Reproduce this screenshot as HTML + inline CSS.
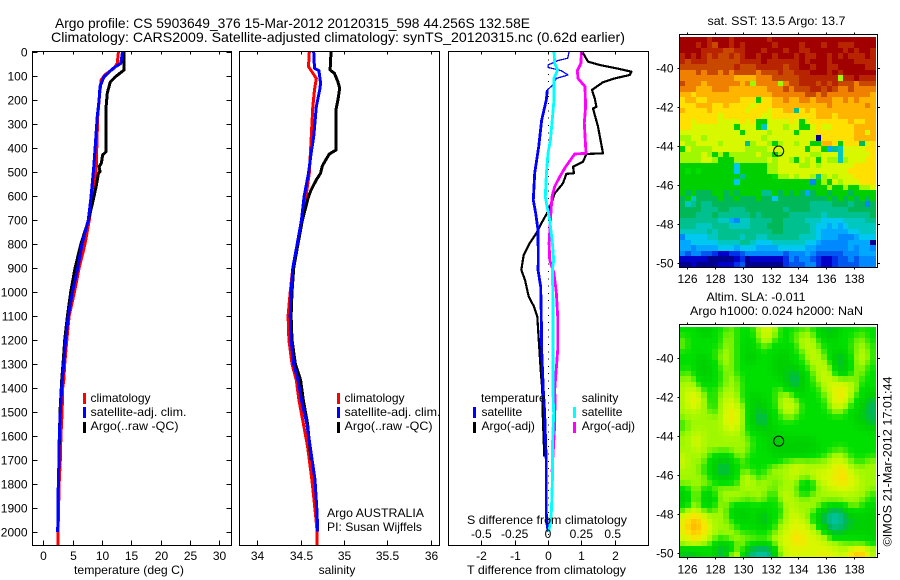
<!DOCTYPE html>
<html lang="en">
<head>
<meta charset="utf-8">
<title>Argo profile</title>
<style>
html,body{margin:0;padding:0;background:#fff;}
svg{display:block;font-family:"Liberation Sans",Arial,sans-serif;font-size:12px;fill:#000;}
text{fill:#000;}
.t14{font-size:14px;}
</style>
</head>
<body>
<svg id="chart" xmlns="http://www.w3.org/2000/svg" width="900" height="580" viewBox="0 0 900 580">
<rect x="0" y="0" width="900" height="580" fill="#fff"/>
<text class="t14" x="55" y="28" textLength="475" lengthAdjust="spacingAndGlyphs">Argo profile: CS 5903649_376 15-Mar-2012 20120315_598 44.256S 132.58E</text>
<text class="t14" x="51" y="42" textLength="574" lengthAdjust="spacingAndGlyphs">Climatology: CARS2009. Satellite-adjusted climatology: synTS_20120315.nc (0.62d earlier)</text>

<g id="maps"></g>
<g id="lines"></g>
<g id="axes"></g>

<g>
<rect x="83" y="393" width="3" height="11" fill="#f00"/>
<rect x="83" y="407" width="3" height="11" fill="#00f"/>
<rect x="83" y="422" width="3" height="11" fill="#000"/>
<text x="90.5" y="402">climatology</text>
<text x="90.5" y="416" textLength="96" lengthAdjust="spacingAndGlyphs">satellite-adj. clim.</text>
<text x="90.5" y="430" textLength="88" lengthAdjust="spacingAndGlyphs">Argo(..raw -QC)</text>
</g>
<g>
<rect x="337" y="393" width="3" height="11" fill="#f00"/>
<rect x="337" y="407" width="3" height="11" fill="#00f"/>
<rect x="337" y="422" width="3" height="11" fill="#000"/>
<text x="344.5" y="402">climatology</text>
<text x="344.5" y="416" textLength="96" lengthAdjust="spacingAndGlyphs">satellite-adj. clim.</text>
<text x="344.5" y="430" textLength="88" lengthAdjust="spacingAndGlyphs">Argo(..raw -QC)</text>
<text x="327" y="517" textLength="97" lengthAdjust="spacingAndGlyphs">Argo AUSTRALIA</text>
<text x="327" y="531" textLength="95" lengthAdjust="spacingAndGlyphs">PI: Susan Wijffels</text>
</g>
<g>
<text x="481" y="402">temperature</text>
<text x="581.7" y="402">salinity</text>
<rect x="473" y="407" width="3" height="11" fill="#00f"/>
<rect x="473" y="422" width="3" height="11" fill="#000"/>
<rect x="573" y="407" width="3" height="11" fill="#0ff"/>
<rect x="573" y="422" width="3" height="11" fill="#f0f"/>
<text x="481.5" y="416">satellite</text>
<text x="481.5" y="430">Argo(-adj)</text>
<text x="581.7" y="416">satellite</text>
<text x="581.7" y="430">Argo(-adj)</text>
</g>

<text x="74" y="574" textLength="110" lengthAdjust="spacingAndGlyphs">temperature (deg C)</text>
<text x="337" y="574" text-anchor="middle">salinity</text>
<text x="467" y="574" textLength="159" lengthAdjust="spacingAndGlyphs">T difference from climatology</text>
<text x="467" y="524" textLength="160" lengthAdjust="spacingAndGlyphs">S difference from climatology</text>

<text x="707.5" y="25" textLength="138" lengthAdjust="spacingAndGlyphs">sat. SST: 13.5 Argo: 13.7</text>
<text x="706.5" y="301" textLength="99" lengthAdjust="spacingAndGlyphs">Altim. SLA: -0.011</text>
<text x="690" y="315" textLength="173" lengthAdjust="spacingAndGlyphs">Argo h1000: 0.024 h2000: NaN</text>
<text transform="translate(891.5,546.5) rotate(-90)" textLength="170" lengthAdjust="spacingAndGlyphs">©IMOS 21-Mar-2012 17:01:44</text>
</svg>

<script>
// ---- Chart data ----
const depthTicks = [0,100,200,300,400,500,600,700,800,900,1000,1100,1200,1300,1400,1500,1600,1700,1800,1900,2000];
const tempTicks = [0,5,10,15,20,25,30];
const salTicks = [34,34.5,35,35.5,36];
const salTickLabels = ['34','34.5','35','35.5','36'];
const tDiffTicks = [-2,-1,0,1,2];
const sDiffTicks = [-0.5,-0.25,0,0.25,0.5];
const sDiffTickLabels = ['-0.5','-0.25','0','0.25','0.5'];
const lonTicks = [126,128,130,132,134,136,138];
const latTicks = [-40,-42,-44,-46,-48,-50];
const argoLon = 132.58;
const argoLat = -44.256;

// temperature profiles
const tempClimDepth = [0,47,68,95,117,186,270,408,505,547,617,700,800,901,1001,1101,1201,1301,1367,1400,1500,1600,1700,1800,1900,2000,2054];
const tempClimValue = [12.8,12.6,12.05,10.5,9.85,9.55,9.26,9.1,9.0,8.7,8.3,7.84,7.1,6.1,5.3,4.4,4.0,3.65,3.5,3.3,3.2,3.0,2.9,2.7,2.6,2.5,2.5];
const tempArgoDepth = [0,75,105,126,171,228,415,429,463,478,498,505,561,617,700,800,901,1001,1101,1201,1301,1367,1500,1700];
const tempArgoValue = [13.75,13.75,12.2,11.4,10.9,10.7,10.7,10.1,9.9,9.5,9.66,9.4,9.0,8.5,7.7,6.4,5.4,4.66,4.1,3.65,3.36,3.13,2.85,2.65];
const tempSatDepth = [0,47,68,105,144,200,267,339,408,478,547,617,700,800,901,1001,1101,1201,1301,1367,1400,1500,1600,1700,1800,1900,2000];
const tempSatValue = [13.5,13.2,11.9,10.3,9.66,9.5,9.2,9.0,8.8,8.6,8.35,8.07,7.67,6.6,5.86,4.95,4.26,3.8,3.47,3.24,3.13,2.9,2.73,2.67,2.55,2.5,2.45];

// salinity profiles
const salClimDepth = [0,61,82,110,158,228,367,505,603,700,800,900,1000,1100,1200,1300,1367,1450,1547,1644,1783,1922,1998,2054];
const salClimValue = [34.6,34.59,34.63,34.68,34.66,34.64,34.62,34.6,34.56,34.51,34.46,34.41,34.38,34.355,34.365,34.4,34.45,34.48,34.53,34.58,34.63,34.67,34.69,34.69];
const salArgoDepth = [0,75,89,124,151,200,235,408,425,443,475,505,533,575,603,700,800,900,1000,1100,1200,1300,1367,1450,1550,1700];
const salArgoValue = [34.85,34.84,34.89,34.93,34.95,34.93,34.91,34.91,34.83,34.8,34.75,34.73,34.68,34.62,34.59,34.52,34.47,34.42,34.4,34.39,34.4,34.44,34.5,34.53,34.58,34.62];
const salSatDepth = [0,68,78,130,158,228,353,422,505,603,700,800,900,1000,1100,1200,1300,1367,1450,1547,1644,1783,1922,1998];
const salSatValue = [34.65,34.66,34.71,34.73,34.72,34.68,34.65,34.62,34.59,34.54,34.51,34.46,34.41,34.39,34.38,34.39,34.42,34.47,34.51,34.57,34.61,34.665,34.69,34.695];

// difference profiles
const dTSatDepth = [0,26,36,54,64,78,96,110,137,158,200,283,394,505,617,672,742,867,908,978,1103,1242,1408,1506,1713,1922,1978,2000];
const dTSatValue = [0.63,0.59,0.3,0,0,0.4,0.6,0.25,0.15,-0.02,-0.05,-0.19,-0.28,-0.4,-0.44,-0.37,-0.3,-0.29,-0.3,-0.22,-0.2,-0.19,-0.14,-0.1,-0.05,-0.05,-0.02,0.01];
const dTArgoDepth = [0,40,54,68,82,96,110,126,158,193,228,235,311,422,425,457,478,505,508,547,589,631,672,714,755,797,846,908,950,1019,1061,1103,1214,1325,1408,1506,1617,1686];
const dTArgoValue = [1.03,1.2,1.55,2.05,2.5,2.45,2.0,1.65,1.32,1.4,1.45,1.35,1.5,1.65,1.15,1.05,0.75,0.78,0.55,0.45,0.2,0.1,-0.03,-0.2,-0.35,-0.55,-0.73,-0.8,-0.69,-0.58,-0.42,-0.32,-0.27,-0.22,-0.17,-0.16,-0.13,-0.11];
const dSSatDepth = [0,47,68,78,110,200,367,422,505,603,644,700,797,867,908,1033,1242,1408,1506,1644,1783,1922,1978,2000];
const dSSatValue = [0.045,0.05,0.067,0.07,0.045,0.045,0.018,0,-0.012,-0.02,-0.007,0.013,0.033,0.043,0.033,0.037,0.037,0.037,0.043,0.033,0.033,0.025,0.013,0.005];
const dSArgoDepth = [0,47,78,110,144,228,297,422,425,478,520,561,603,700,797,867,922,1006,1103,1242,1408,1450,1575,1658,1750];
const dSArgoValue = [0.25,0.247,0.22,0.225,0.277,0.282,0.272,0.285,0.2,0.133,0.088,0.05,0.03,0.018,0.008,0.013,0.045,0.063,0.073,0.073,0.05,0.053,0.048,0.04,0.03];

// SST map, colour-level per cell (north to south)
const sstRows = [
[20,20,20,20,20,19,20,20,20,19,20,20,20,20,20,20,19,20,20,20,20,20,20,20,20,20,20,20,20,20,20,20,20,20,20,20],
[20,20,20,19,20,19,18,20,20,19,20,19,20,20,20,20,20,19,20,20,20,20,19,20,20,20,19,20,20,19,19,19,20,20,20,20],
[20,20,20,20,19,19,19,19,18,18,19,19,20,20,20,19,20,20,20,19,20,20,19,19,20,20,20,20,20,20,19,20,19,20,20,19],
[19,20,19,20,19,18,19,18,18,19,18,19,20,20,19,20,20,19,20,20,20,19,20,19,19,20,20,19,20,19,20,19,19,19,20,19],
[19,18,19,19,19,18,18,18,18,18,18,19,19,19,19,20,19,19,19,19,19,19,20,19,20,20,20,19,20,20,20,20,19,19,19,19],
[18,18,18,18,18,18,18,18,18,18,19,18,18,18,19,19,19,19,19,18,19,19,20,20,19,20,20,19,19,20,20,20,20,20,19,19],
[17,17,17,18,17,18,18,17,18,17,18,18,18,18,17,18,18,18,19,18,18,19,19,19,20,20,20,19,20,19,20,20,20,20,20,20],
[17,17,17,17,17,17,17,17,17,17,16,16,16,16,17,17,17,18,18,18,18,18,19,19,19,19,19,19,19,13,19,19,20,19,19,19],
[18,17,17,17,16,17,17,17,17,17,17,16,17,13,17,17,17,17,13,17,18,18,19,19,19,18,19,18,19,18,18,18,17,18,18,18],
[17,17,17,16,16,16,17,17,17,16,16,16,16,16,16,16,17,17,17,18,17,18,18,18,19,19,18,19,18,17,17,18,17,17,17,17],
[16,16,15,16,16,16,16,16,16,16,16,16,16,16,16,16,16,17,17,17,17,17,17,18,18,17,18,17,17,17,17,17,17,17,17,16],
[15,16,16,15,15,16,16,16,16,16,16,15,15,15,11,15,15,16,16,17,16,16,17,17,16,17,17,17,16,16,17,16,17,16,16,16],
[15,15,15,16,16,16,15,15,16,15,15,15,15,14,15,15,15,16,16,16,16,16,16,16,16,16,16,17,16,16,16,16,16,16,17,16],
[16,15,15,15,15,16,15,15,15,15,15,15,14,15,15,15,14,15,15,16,16,9,15,16,15,16,16,16,16,16,16,16,16,16,16,16],
[15,15,15,15,15,15,15,14,15,15,15,15,15,15,15,14,14,15,15,15,15,15,15,15,15,16,16,16,15,16,16,16,16,16,16,16],
[15,15,14,15,15,15,15,14,14,14,14,15,14,15,11,11,14,14,14,14,15,14,11,14,15,15,15,15,15,15,15,16,15,15,16,16],
[15,15,14,14,14,14,14,14,14,14,11,14,14,14,11,8,14,14,14,13,14,14,11,11,14,15,14,14,15,15,15,15,16,16,16,16],
[14,14,14,14,14,14,14,14,14,14,14,11,14,14,14,14,13,14,14,14,14,11,14,14,14,15,15,15,15,15,15,15,16,16,14,16],
[13,13,14,14,13,14,14,14,14,14,14,14,14,14,14,13,14,14,14,14,14,14,14,14,14,1,15,15,15,15,15,15,16,16,16,16],
[14,13,13,14,14,14,14,13,14,14,14,14,9,13,14,14,13,11,13,14,14,13,14,14,11,11,16,16,15,11,15,15,15,10,14,15],
[11,14,13,13,13,13,14,14,14,14,14,14,13,13,13,13,14,14,14,14,14,14,14,11,14,14,11,6,9,8,14,14,14,14,15,15],
[13,13,13,13,14,13,11,13,11,13,13,13,13,13,14,13,13,11,13,14,14,14,14,14,13,13,14,14,14,8,14,14,14,14,14,15],
[13,13,13,13,14,14,13,11,11,11,13,13,13,13,13,13,14,13,14,14,13,11,14,13,14,11,14,13,13,8,13,14,14,14,15,15],
[11,11,11,11,11,11,11,11,11,11,7,11,11,11,11,11,13,13,14,14,14,14,13,13,14,13,14,14,14,14,14,14,15,15,15,15],
[11,12,11,12,11,11,11,11,11,11,7,11,11,11,11,11,13,13,14,14,14,14,14,14,14,14,14,14,14,14,14,15,15,15,15,15],
[11,11,11,11,11,11,11,11,11,11,11,9,11,11,11,11,11,12,13,13,14,13,14,14,13,9,13,14,13,14,14,14,15,15,15,15],
[11,11,11,11,11,11,11,11,11,11,7,11,11,11,11,11,11,11,11,11,11,11,11,11,5,11,13,11,14,13,14,14,14,15,15,15],
[11,11,11,11,11,11,11,11,11,11,11,11,11,11,11,11,11,11,11,11,11,11,11,11,11,11,11,13,11,11,13,11,11,13,13,14],
[11,10,11,10,10,10,11,11,10,11,10,11,11,11,11,9,9,11,10,11,10,11,10,6,10,11,11,10,11,11,11,10,11,11,11,11],
[10,11,8,10,10,10,10,11,10,10,11,10,10,10,11,10,10,7,10,10,10,10,10,10,10,10,10,11,10,11,10,11,10,11,10,11],
[10,8,9,10,9,9,10,10,10,10,10,10,10,10,10,10,10,10,10,10,10,10,10,10,9,9,9,9,10,10,10,9,10,10,5,10],
[10,10,10,10,9,9,9,10,10,9,9,9,10,10,10,10,10,10,10,9,10,10,10,10,9,9,9,9,9,9,9,10,10,10,10,10],
[10,10,10,9,9,9,10,9,9,9,9,9,9,10,9,10,10,10,10,10,9,9,9,9,9,9,8,9,9,9,9,9,9,9,9,10],
[9,9,9,9,9,9,9,8,8,6,5,8,8,9,9,9,9,10,10,9,9,9,9,8,8,8,7,7,7,7,8,8,8,8,9,9],
[9,9,9,8,8,8,9,9,9,8,8,8,8,9,9,9,10,10,10,9,9,9,9,9,8,7,7,6,7,6,7,8,8,8,8,8],
[8,8,8,8,8,9,8,9,9,9,9,9,9,9,9,9,9,10,10,9,9,9,9,9,8,7,6,6,6,6,6,7,7,8,8,8],
[5,7,7,7,7,8,8,9,9,9,9,8,9,9,8,8,9,9,9,9,9,9,8,8,8,7,6,6,6,5,5,5,6,7,7,7],
[6,6,7,7,7,7,7,8,8,8,8,9,9,8,7,7,7,8,8,8,8,8,8,7,7,6,5,5,5,5,5,6,6,6,6,1],
[6,6,5,6,6,6,6,7,7,7,6,7,7,7,6,6,6,6,7,7,7,7,7,6,6,5,5,5,5,5,5,6,5,6,6,5],
[5,4,5,5,4,4,3,2,2,3,3,4,5,5,5,5,5,5,5,4,5,5,5,6,5,4,4,4,4,4,5,5,5,6,6,6],
[2,2,2,2,2,1,1,1,1,1,2,3,1,2,2,2,2,2,2,3,5,4,5,5,4,3,2,2,3,4,4,5,4,5,5,5],
[1,1,2,1,1,1,1,2,2,2,3,4,1,1,1,1,1,1,1,3,4,4,4,5,5,3,2,2,3,4,4,4,4,5,5,5]
];

// SLA map, colour-level per cell (north to south)
const slaRows = [
[12,12,12,11,11,11,12,12,12,13,12,12,12,12,13,14,14,13,12,12,12,12,12,13,12,11,11,10,11,11,12,12,12,12,12,12],
[12,12,12,12,11,11,12,12,13,13,12,12,12,12,13,14,14,13,12,12,12,13,13,13,13,12,11,11,11,12,12,12,12,13,12,12],
[13,12,12,12,12,12,12,12,13,13,12,12,11,12,12,14,13,12,12,12,12,13,13,14,13,12,12,11,11,12,12,12,13,13,12,12],
[13,12,12,12,12,12,12,12,13,13,12,12,11,12,12,13,12,12,12,12,12,12,13,14,13,13,12,12,12,12,12,12,13,13,13,12],
[12,12,12,12,12,12,12,13,13,13,12,12,11,11,12,12,12,12,11,11,12,12,13,13,14,13,12,12,11,11,12,12,13,13,13,12],
[12,12,12,11,11,12,12,13,13,13,12,12,11,11,12,12,12,11,11,11,12,12,12,13,14,13,13,12,11,10,11,12,13,14,13,12],
[12,12,12,11,11,11,12,13,13,13,12,12,11,11,12,12,12,11,11,11,11,12,12,13,13,14,13,12,11,10,11,12,13,13,13,12],
[12,12,12,11,11,11,12,12,13,13,12,12,12,12,12,12,12,11,11,11,11,11,12,12,13,13,14,13,12,10,11,12,13,13,12,12],
[12,13,12,11,11,11,12,12,13,13,12,12,12,12,12,12,12,11,11,11,10,10,11,12,13,13,14,13,12,11,11,12,13,13,12,12],
[13,13,13,12,11,11,12,12,13,13,13,12,12,12,12,12,12,12,11,11,10,10,11,12,12,13,14,14,13,13,13,13,13,12,12,12],
[13,13,13,12,12,12,12,12,13,13,13,12,12,12,12,12,12,12,12,11,10,10,11,12,12,13,13,14,14,14,14,13,13,12,12,12],
[13,14,14,13,12,12,12,13,13,13,13,12,12,12,12,12,12,12,13,12,11,11,11,12,12,12,13,14,14,15,14,14,13,12,11,12],
[13,14,14,14,13,12,12,13,13,14,13,12,12,11,11,12,12,12,13,13,13,12,11,12,12,12,13,13,14,15,14,13,12,12,11,11],
[13,14,15,14,13,12,12,13,14,14,13,12,12,11,11,11,12,12,13,14,13,13,12,12,12,12,12,13,14,15,14,13,12,11,11,10],
[13,14,14,14,13,12,12,13,14,14,14,13,12,11,11,11,12,12,13,14,14,13,12,12,12,12,12,13,14,14,13,12,12,11,10,10],
[13,13,14,13,13,13,12,13,14,15,14,13,12,11,10,11,11,12,13,13,14,13,12,12,12,12,12,12,13,13,12,12,11,11,10,10],
[13,13,13,13,13,13,13,13,14,15,14,13,12,11,10,10,11,12,12,13,13,12,12,12,12,12,12,12,12,12,12,12,11,11,10,10],
[12,13,13,13,13,13,13,13,14,15,14,13,12,11,10,10,11,12,12,12,12,12,12,12,12,12,12,12,12,12,12,12,11,11,11,10],
[12,13,13,13,13,13,13,13,14,14,14,13,12,11,11,11,11,12,12,12,12,12,12,12,12,12,12,12,12,12,12,12,12,11,11,11],
[13,13,13,14,13,13,13,13,13,14,13,13,12,12,12,11,11,11,11,12,12,12,12,12,12,12,12,12,12,12,12,12,12,12,12,12],
[13,13,14,14,13,13,13,13,13,13,13,13,13,12,12,12,11,11,11,11,11,11,11,11,11,12,12,12,12,12,12,12,12,12,12,12],
[13,13,14,14,13,13,13,13,13,13,13,13,13,12,12,12,11,11,11,11,11,11,11,11,11,12,12,12,12,12,12,12,12,12,12,12],
[13,13,13,14,13,13,13,13,13,13,13,13,13,12,12,12,11,11,11,11,11,11,11,11,11,11,12,12,12,13,12,12,12,12,12,12],
[14,13,13,13,13,12,12,11,11,12,13,13,12,12,12,12,12,11,11,11,11,11,11,11,12,12,12,13,13,13,13,12,12,12,12,12],
[14,13,13,13,13,12,11,11,11,11,12,13,12,12,12,12,12,12,12,13,13,13,13,13,13,13,13,13,14,14,13,13,12,12,13,13],
[14,13,13,13,12,12,11,10,10,11,12,12,12,12,12,12,12,13,13,13,13,14,14,13,13,13,13,14,14,15,14,13,13,13,13,13],
[13,13,13,13,12,12,11,10,10,11,12,13,13,12,12,12,13,13,13,13,14,14,13,13,14,14,14,14,14,15,15,14,13,13,13,13],
[13,13,13,13,13,12,11,11,11,11,12,13,14,13,12,13,13,13,13,13,14,13,13,13,13,14,14,14,15,15,15,14,14,13,13,13],
[13,13,13,13,13,13,12,12,12,12,12,13,14,13,13,13,13,12,13,13,13,13,12,11,12,13,14,14,14,15,15,14,14,13,13,13],
[12,12,13,13,12,12,13,13,13,13,13,13,13,13,13,13,13,13,13,13,13,13,11,11,12,13,13,14,14,14,14,14,14,13,13,13],
[11,11,13,13,11,11,12,13,13,13,13,13,13,13,13,13,12,12,13,14,13,13,12,12,13,13,13,13,13,13,14,13,13,13,13,12],
[11,11,13,13,11,11,12,13,13,13,13,13,12,13,13,13,12,12,13,14,13,13,13,13,13,13,13,13,13,13,13,13,13,13,12,12],
[11,12,13,13,11,11,12,13,13,12,12,12,12,12,12,12,12,12,12,13,14,13,13,13,13,13,12,12,12,12,12,13,13,12,12,12],
[12,13,14,13,13,12,13,13,13,11,11,11,11,12,11,11,12,12,12,13,14,13,13,13,13,12,11,10,10,10,11,12,12,12,11,11],
[14,15,15,15,14,13,13,13,13,12,11,11,11,12,11,10,12,12,12,13,14,14,13,13,12,11,10,9,8,9,10,11,11,11,11,11],
[14,15,16,16,14,14,13,13,13,12,12,11,11,12,11,10,11,12,13,13,14,14,14,13,12,11,10,9,8,9,10,10,11,11,11,11],
[14,16,16,16,15,14,13,13,13,13,12,12,12,12,11,11,12,12,13,14,14,14,14,14,13,12,11,10,9,10,10,11,11,11,11,11],
[14,15,16,15,15,14,13,13,13,13,13,12,12,12,12,12,12,13,13,14,14,15,14,14,14,13,12,11,10,10,11,11,11,11,11,11],
[14,14,15,15,14,13,13,12,13,13,13,13,13,13,13,13,13,13,14,14,15,15,15,14,14,14,13,13,12,12,12,12,12,12,11,11],
[13,14,14,14,13,13,12,11,11,12,13,13,12,12,11,11,12,13,14,14,14,15,15,14,14,14,14,13,13,13,13,12,12,12,12,12],
[11,11,11,11,11,12,11,10,10,11,12,13,11,10,10,10,10,11,13,14,14,14,14,14,14,14,14,14,14,13,13,14,15,15,14,13],
[11,10,11,11,12,12,11,10,11,14,15,11,10,9,8,8,9,11,13,14,14,14,14,14,14,14,15,14,14,14,14,15,16,16,14,13]
];

// Colour scale used by both maps, one entry per integer level.
const levelColors = ['#000070','#000090','#0000c8','#0030e8','#0058f0','#0088ff','#00a8ff','#00c8f0','#00c8c0','#00c090','#00b858','#00d000','#00e000','#a0f800','#d8f800','#ffe000','#ffb400','#f08000','#c84800','#b82400','#a00000'];

// ---- Drawing ----
const NS = 'http://www.w3.org/2000/svg';
const axesG = document.getElementById('axes');
const linesG = document.getElementById('lines');
const mapsG = document.getElementById('maps');

function linearScale(v0, p0, v1, p1) {
  return function (v) { return p0 + (v - v0) * (p1 - p0) / (v1 - v0); };
}
const depthY = linearScale(0, 52, 2000, 532);
const tempX = linearScale(0, 43.3, 30, 219.4);
const salX = linearScale(34, 257.3, 36, 430.7);
const dTX = linearScale(-2, 481.3, 2, 614.7);
const dSX = linearScale(-0.5, 481.3, 0.5, 614.7);
const lonX = linearScale(126, 687.3, 138, 854);
const lat1Y = linearScale(-40, 68.3, -50, 262.7);
const lat2Y = linearScale(-40, 358.3, -50, 553);

function hexToRgb(h) {
  return [parseInt(h.slice(1, 3), 16), parseInt(h.slice(3, 5), 16), parseInt(h.slice(5, 7), 16)];
}
function levelColor(v) {
  const lv = Math.max(0, Math.min(levelColors.length - 1, v));
  const i = Math.min(levelColors.length - 2, Math.floor(lv));
  const f = lv - i;
  const a = hexToRgb(levelColors[i]), b = hexToRgb(levelColors[i + 1]);
  return 'rgb(' + Math.round(a[0] + (b[0] - a[0]) * f) + ',' + Math.round(a[1] + (b[1] - a[1]) * f) + ',' + Math.round(a[2] + (b[2] - a[2]) * f) + ')';
}
// Display smoothing for the altimetry map, matching its interpolated look.
function smoothed(rows, r, c) {
  let sum = 0, wt = 0;
  for (let dr = -1; dr <= 1; dr++) {
    for (let dc = -1; dc <= 1; dc++) {
      const row = rows[r + dr];
      if (!row || row[c + dc] === undefined) continue;
      const w = (dr === 0 ? 2 : 1) * (dc === 0 ? 2 : 1);
      sum += row[c + dc] * w;
      wt += w;
    }
  }
  return sum / wt;
}

function tickLine(x1, y1, x2, y2) {
  const l = document.createElementNS(NS, 'line');
  l.setAttribute('x1', x1); l.setAttribute('y1', y1);
  l.setAttribute('x2', x2); l.setAttribute('y2', y2);
  l.setAttribute('stroke', '#000');
  l.setAttribute('stroke-width', '1');
  l.setAttribute('shape-rendering', 'crispEdges');
  
  
  axesG.appendChild(l);
}
function tickLabel(x, y, str, anchor) {
  const t = document.createElementNS(NS, 'text');
  t.setAttribute('x', x); t.setAttribute('y', y);
  t.setAttribute('text-anchor', anchor);
  
  
  t.textContent = str;
  axesG.appendChild(t);
}
function frame(x0, y0, x1, y1) {
  const r = document.createElementNS(NS, 'rect');
  r.setAttribute('x', x0); r.setAttribute('y', y0);
  r.setAttribute('width', x1 - x0); r.setAttribute('height', y1 - y0);
  r.setAttribute('fill', 'none');
  r.setAttribute('stroke', '#000');
  r.setAttribute('stroke-width', '1');
  r.setAttribute('shape-rendering', 'crispEdges');
  
  
  axesG.appendChild(r);
}
function profile(depths, values, xFn, color, width) {
  const pts = [];
  for (let i = 0; i < depths.length; i++) {
    pts.push(xFn(values[i]).toFixed(1) + ',' + depthY(depths[i]).toFixed(1));
  }
  const p = document.createElementNS(NS, 'polyline');
  p.setAttribute('points', pts.join(' '));
  p.setAttribute('fill', 'none');
  p.setAttribute('stroke', color);
  p.setAttribute('stroke-width', width);
  p.setAttribute('stroke-linejoin', 'round');
  p.setAttribute('shape-rendering', 'crispEdges');
  
  
  linesG.appendChild(p);
}

// temperature panel
frame(32.5, 51.5, 231.5, 545.5);
depthTicks.forEach(function (d) {
  const y = Math.round(depthY(d)) + 0.5;
  tickLine(32.5, y, 37.5, y);
  tickLine(226.5, y, 231.5, y);
  tickLabel(27.5, y + 4, String(d), 'end');
});
tempTicks.forEach(function (v) {
  const x = Math.round(tempX(v)) + 0.5;
  tickLine(x, 51.5, x, 54.5);
  tickLine(x, 540.5, x, 545.5);
  tickLabel(x, 560, String(v), 'middle');
});
profile(tempClimDepth, tempClimValue, tempX, '#f00', 3);
profile(tempArgoDepth, tempArgoValue, tempX, '#000', 3);
profile(tempSatDepth, tempSatValue, tempX, '#00f', 3);

// salinity panel
frame(239.5, 51.5, 439.5, 545.5);
salTicks.forEach(function (v, i) {
  const x = Math.round(salX(v)) + 0.5;
  tickLine(x, 51.5, x, 54.5);
  tickLine(x, 540.5, x, 545.5);
  tickLabel(x, 560, salTickLabels[i], 'middle');
});
profile(salClimDepth, salClimValue, salX, '#f00', 3);
profile(salArgoDepth, salArgoValue, salX, '#000', 3);
profile(salSatDepth, salSatValue, salX, '#00f', 3);

// difference panel
frame(448.5, 51.5, 648.5, 545.5);
tDiffTicks.forEach(function (v) {
  const x = Math.round(dTX(v)) + 0.5;
  tickLine(x, 51.5, x, 54.5);
  tickLine(x, 540.5, x, 545.5);
  tickLabel(x, 560, String(v), 'middle');
});
sDiffTicks.forEach(function (v, i) {
  tickLabel(dSX(v) - (i === 4 ? 2 : 0), 538, sDiffTickLabels[i], 'middle');
});
const zeroLine = document.createElementNS(NS, 'line');
zeroLine.setAttribute('x1', '548.5');
zeroLine.setAttribute('y1', '52');
zeroLine.setAttribute('x2', '548.5');
zeroLine.setAttribute('y2', '545');
zeroLine.setAttribute('stroke', '#000');
zeroLine.setAttribute('stroke-dasharray', '1 6.3');
zeroLine.setAttribute('shape-rendering', 'crispEdges');


linesG.appendChild(zeroLine);
profile(dTArgoDepth, dTArgoValue, dTX, '#000', 2.2);
profile(dSArgoDepth, dSArgoValue, dSX, '#f0f', 2.8);
profile(dTSatDepth.slice(0, 10), dTSatValue.slice(0, 10), dTX, '#00f', 1.3);
profile(dTSatDepth.slice(9), dTSatValue.slice(9), dTX, '#00f', 2.8);
profile(dSSatDepth, dSSatValue, dSX, '#0ff', 2.8);

// maps
function drawMap(rows, latY, top, bottom, name, smooth) {
  const left = 679.7, right = 875.7;
  const nRows = rows.length, nCols = rows[0].length;
  const lonStep = (138 - 126) / (lonX(138) - lonX(126)) * (right - left) / nCols;
  const lonStart = 126 - (lonX(126) - left) * 12 / (lonX(138) - lonX(126));
  const latFactor = 10 / (latY(-50) - latY(-40));
  const latStep = (bottom - top) / nRows * latFactor;
  const latStart = -40 + (latY(-40) - top) * latFactor;
  for (let r = 0; r < nRows; r++) {
    for (let c = 0; c < nCols; c++) {
      const x0 = Math.round(lonX(lonStart + c * lonStep));
      const x1 = Math.round(lonX(lonStart + (c + 1) * lonStep));
      const y0 = Math.round(latY(latStart - r * latStep));
      const y1 = Math.round(latY(latStart - (r + 1) * latStep));
      const cell = document.createElementNS(NS, 'rect');
      cell.setAttribute('x', x0);
      cell.setAttribute('y', y0);
      cell.setAttribute('width', x1 - x0);
      cell.setAttribute('height', y1 - y0);
      cell.setAttribute('fill', levelColor(smooth ? smoothed(rows, r, c) : rows[r][c]));
      cell.setAttribute('shape-rendering', 'crispEdges');
      
      
      mapsG.appendChild(cell);
    }
  }
}
function mapAxes(latY, top, bottom, labelY) {
  frame(679.5, top, 877.5, bottom);
  lonTicks.forEach(function (v) {
    const x = Math.round(lonX(v)) + 0.5;
    tickLine(x, top - 2, x, top);
    tickLine(x, bottom, x, bottom + 2);
    tickLabel(x, labelY, String(v), 'middle');
  });
  latTicks.forEach(function (v) {
    const y = Math.round(latY(v)) + 0.5;
    tickLine(677.5, y, 679.5, y);
    tickLine(877.5, y, 880, y);
    tickLabel(673.5, y + 4, String(v), 'end');
  });
  const ring = document.createElementNS(NS, 'circle');
  ring.setAttribute('cx', lonX(argoLon));
  ring.setAttribute('cy', latY(argoLat));
  ring.setAttribute('r', '5');
  ring.setAttribute('fill', 'none');
  ring.setAttribute('stroke', '#000');
  ring.setAttribute('stroke-width', '1');
  
  
  axesG.appendChild(ring);
}
drawMap(sstRows, lat1Y, 36.7, 267, 'sst-cell', false);
mapAxes(lat1Y, 34.5, 267.5, 283);
drawMap(slaRows, lat2Y, 326.7, 557, 'sla-cell', true);
mapAxes(lat2Y, 324.5, 557.5, 573.5);
</script>
</body>
</html>
